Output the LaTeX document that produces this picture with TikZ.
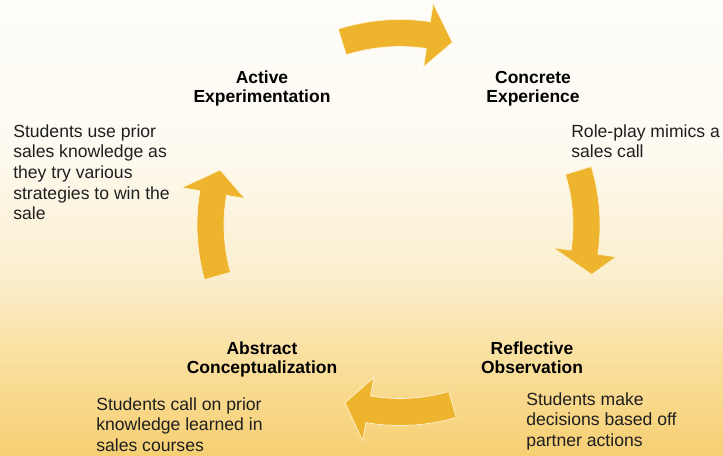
\documentclass[tikz,border=0pt]{standalone}
\usepackage{fontspec}
\setmainfont{Liberation Sans}
\begin{document}
\begin{tikzpicture}[x=0.75pt,y=0.75pt]
\definecolor{arrowgold}{RGB}{238,180,46}
\definecolor{arrowedge}{RGB}{255,244,214}
\definecolor{bgA}{RGB}{254,253,250}
\definecolor{bgB}{RGB}{253,250,240}
\definecolor{bgC}{RGB}{251,238,205}
\definecolor{bgD}{RGB}{250,225,162}
\definecolor{bgE}{RGB}{246,207,115}
\tikzset{
  stage/.style={anchor=base, inner sep=0pt,
    font=\fontsize{13.1}{14.25}\selectfont\bfseries, text=black},
  note/.style={anchor=base west, inner sep=0pt,
    font=\fontsize{13.2}{15.5}\selectfont, text=black!88},
  cyc/.style={fill=arrowgold, draw=arrowedge, line width=0.5pt, line join=miter}
}
\newcommand\centerlines[1]{\begin{tabular}[t]{@{}c@{}}#1\end{tabular}}
\newcommand\leftlines[1]{\begin{tabular}[t]{@{}l@{}}#1\end{tabular}}
% curved block arrow running clockwise round the cycle centre:
% #1 tail angle, #2 head-base angle, #3 tip angle, #4 radius, #5 tip radius
\newcommand\cycarrow[5]{%
  \pgfmathsetmacro\rout{#4+13.5}%
  \pgfmathsetmacro\rin{#4-13.5}%
  \pgfmathsetmacro\hout{#4+32}%
  \pgfmathsetmacro\hin{#4-32}%
  \path[cyc] (#1:\rout) arc[start angle=#1, end angle=#2, radius=\rout]
    -- (#2:\hout) -- (#3:#5) -- (#2:\hin) -- (#2:\rin)
    arc[start angle=#2, end angle=#1, radius=\rin] -- cycle;
}

\useasboundingbox (0,0) rectangle (723,455);

% background wash, pale at the top and warm at the bottom
\shade[top color=bgA, bottom color=bgB] (0,304.5) rectangle (723,455);
\shade[top color=bgB, bottom color=bgC] (0,174.5) rectangle (723,305);
\shade[top color=bgC, bottom color=bgD] (0,104.5) rectangle (723,175);
\shade[top color=bgD, bottom color=bgE] (0,0) rectangle (723,105);

% the four cycle arrows
\begin{scope}[shift={(400,230)}]
  \cycarrow{107.5}{81.5}{74}{192}{190}
  \cycarrow{17}{-8.4}{-14.5}{186.5}{198}
  \cycarrow{-73.7}{-99.8}{-107.2}{187}{186}
  \cycarrow{195.6}{170.3}{163}{189.5}{188}
\end{scope}

% stage titles
\node[stage] (active)   at (262,372) {\centerlines{Active\\Experimentation}};
\node[stage] (concrete) at (533,372) {\centerlines{Concrete\\Experience}};
\node[stage] (abstract) at (262,101) {\centerlines{Abstract\\Conceptualization}};
\node[stage] (reflect)  at (532,101) {\centerlines{Reflective\\Observation}};

% descriptions
\node[note] (activeText)   at (13,318)  {\leftlines{Students use prior\\sales knowledge as\\they try various\\strategies to win the\\sale}};
\node[note] (concreteText) at (571,318) {\leftlines{Role-play mimics a\\sales call}};
\node[note] (abstractText) at (96,45)   {\leftlines{Students call on prior\\knowledge learned in\\sales courses}};
\node[note] (reflectText)  at (526,50)  {\leftlines{Students make\\decisions based off\\partner actions}};
\end{tikzpicture}
\end{document}
